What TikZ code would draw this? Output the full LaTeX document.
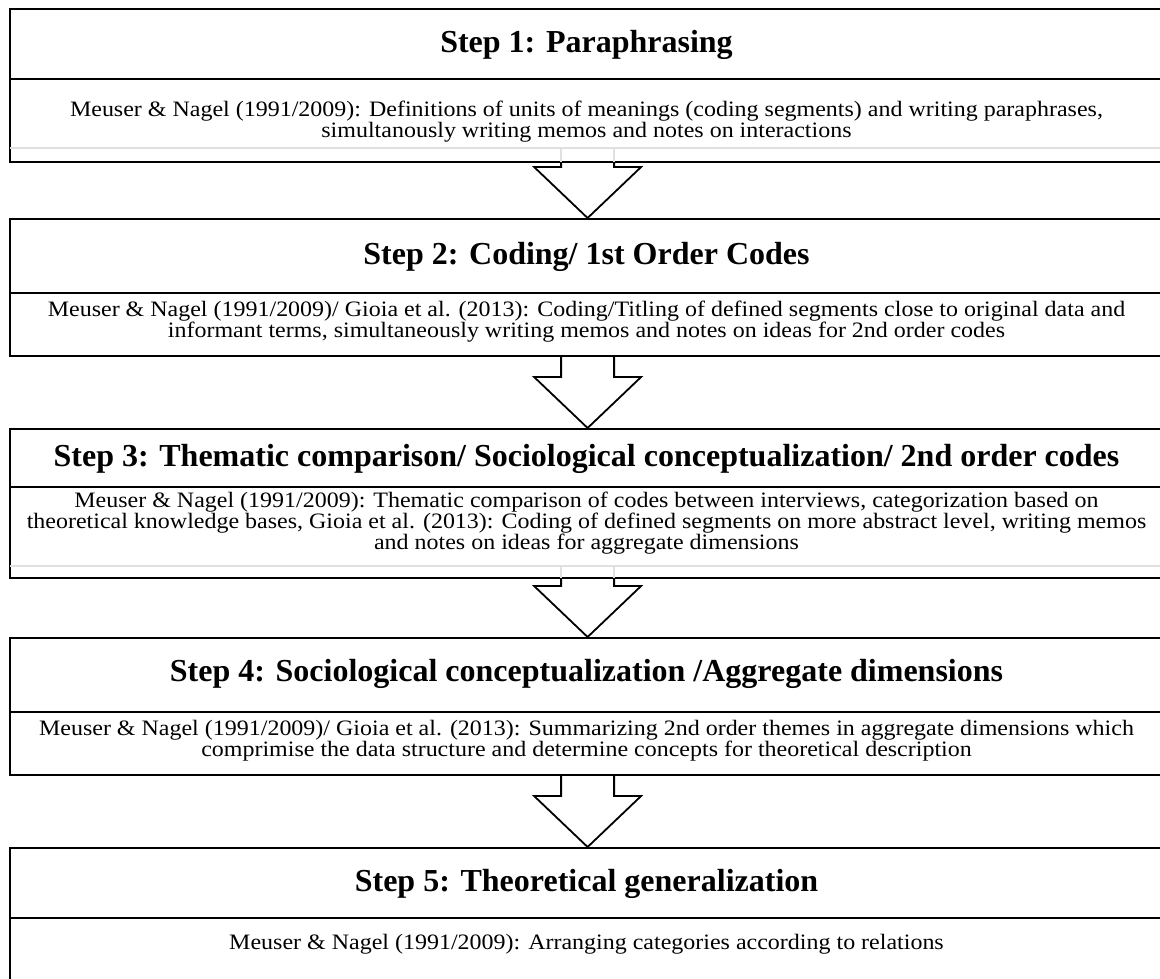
\documentclass[tikz,border=0pt]{standalone}
\usepackage{fontspec}
\setmainfont{Liberation Serif}
\newfontfamily\stepbodyfont[FakeStretch=1.09]{Liberation Serif}
\usetikzlibrary{calc}
\begin{document}
\begin{tikzpicture}[x=1pt, y=-1pt,
  stepframe/.style={draw, line width=2.2pt, fill=white, anchor=north west,
    minimum width=1155pt, inner sep=0pt},
  divider/.style={line width=1.8pt},
  ghost/.style={draw=black!12, line width=1.6pt},
  titletext/.style={font=\fontsize{32}{34}\selectfont\bfseries},
  bodytext/.style={font=\stepbodyfont\fontsize{22}{19.8}\selectfont, align=center},
  blockarrow/.style={draw, line width=1.8pt, line join=miter}]
\useasboundingbox (0,0) rectangle (1160,978);

% step frames
\node[stepframe, minimum height=153pt] (b1) at (9,8) {};
\node[stepframe, minimum height=137pt] (b2) at (9,218) {};
\node[stepframe, minimum height=149pt] (b3) at (9,428) {};
\node[stepframe, minimum height=137pt] (b4) at (9,637) {};
\node[stepframe, minimum height=160pt] (b5) at (9,847) {};

% dividers between heading and description
\draw[divider] ($(b1.north west)+(0,71)$) -- ($(b1.north east)+(0,71)$);
\draw[divider] ($(b2.north west)+(0,75)$) -- ($(b2.north east)+(0,75)$);
\draw[divider] ($(b3.north west)+(0,59)$) -- ($(b3.north east)+(0,59)$);
\draw[divider] ($(b4.north west)+(0,75)$) -- ($(b4.north east)+(0,75)$);
\draw[divider] ($(b5.north west)+(0,71)$) -- ($(b5.north east)+(0,71)$);

% faint guide lines inside frames 1 and 3
\draw[ghost] ($(b1.south west)+(1.2,-15)$) -- ($(b1.south east)+(0,-15)$);
\draw[ghost] ($(b3.south west)+(1.2,-13)$) -- ($(b3.south east)+(0,-13)$);
\draw[ghost] ($(b1.south)+(-26.5,-15)$) -- ($(b1.south)+(-26.5,-1)$);
\draw[ghost] ($(b1.south)+(26.5,-15)$) -- ($(b1.south)+(26.5,-1)$);
\draw[ghost] ($(b3.south)+(-26.5,-13)$) -- ($(b3.south)+(-26.5,-1)$);
\draw[ghost] ($(b3.south)+(26.5,-13)$) -- ($(b3.south)+(26.5,-1)$);

% headings
\node[titletext] (t1) at (586.5,45) {Step 1: Paraphrasing};
\node[titletext] (t2) at (586.5,257) {Step 2: Coding/ 1st Order Codes};
\node[titletext] (t3) at (586.5,459) {Step 3: Thematic comparison/ Sociological conceptualization/ 2nd order codes};
\node[titletext] (t4) at (586.5,674) {Step 4: Sociological conceptualization /Aggregate dimensions};
\node[titletext] (t5) at (586.5,884) {Step 5: Theoretical generalization};

% descriptions
\node[bodytext] (d1) at (586.5,122) {Meuser \& Nagel (1991/2009): Definitions of units of meanings (coding segments) and writing paraphrases,\\simultanously writing memos and notes on interactions};
\node[bodytext] (d2) at (586.5,322) {Meuser \& Nagel (1991/2009)/ Gioia et al. (2013): Coding/Titling of defined segments close to original data and\\informant terms, simultaneously writing memos and notes on ideas for 2nd order codes};
\node[bodytext] (d3) at (586.5,523) {Meuser \& Nagel (1991/2009): Thematic comparison of codes between interviews, categorization based on\\theoretical knowledge bases, Gioia et al. (2013): Coding of defined segments on more abstract level, writing memos\\and notes on ideas for aggregate dimensions};
\node[bodytext] (d4) at (586.5,741) {Meuser \& Nagel (1991/2009)/ Gioia et al. (2013): Summarizing 2nd order themes in aggregate dimensions which\\comprimise the data structure and determine concepts for theoretical description};
\node[bodytext] (d5) at (586.5,944) {Meuser \& Nagel (1991/2009): Arranging categories according to relations};

% block arrows from each step to the next
\foreach \a/\b in {b1/b2, b2/b3, b3/b4, b4/b5} {
  \draw[blockarrow]
    ($(\a.south)+(-26.5,0)$) -- ($(\b.north)+(-26.5,-51)$)
    -- ($(\b.north)+(-53.5,-51)$) -- (\b.north)
    -- ($(\b.north)+(53.5,-51)$) -- ($(\b.north)+(26.5,-51)$)
    -- ($(\a.south)+(26.5,0)$);
}
\end{tikzpicture}
\end{document}
